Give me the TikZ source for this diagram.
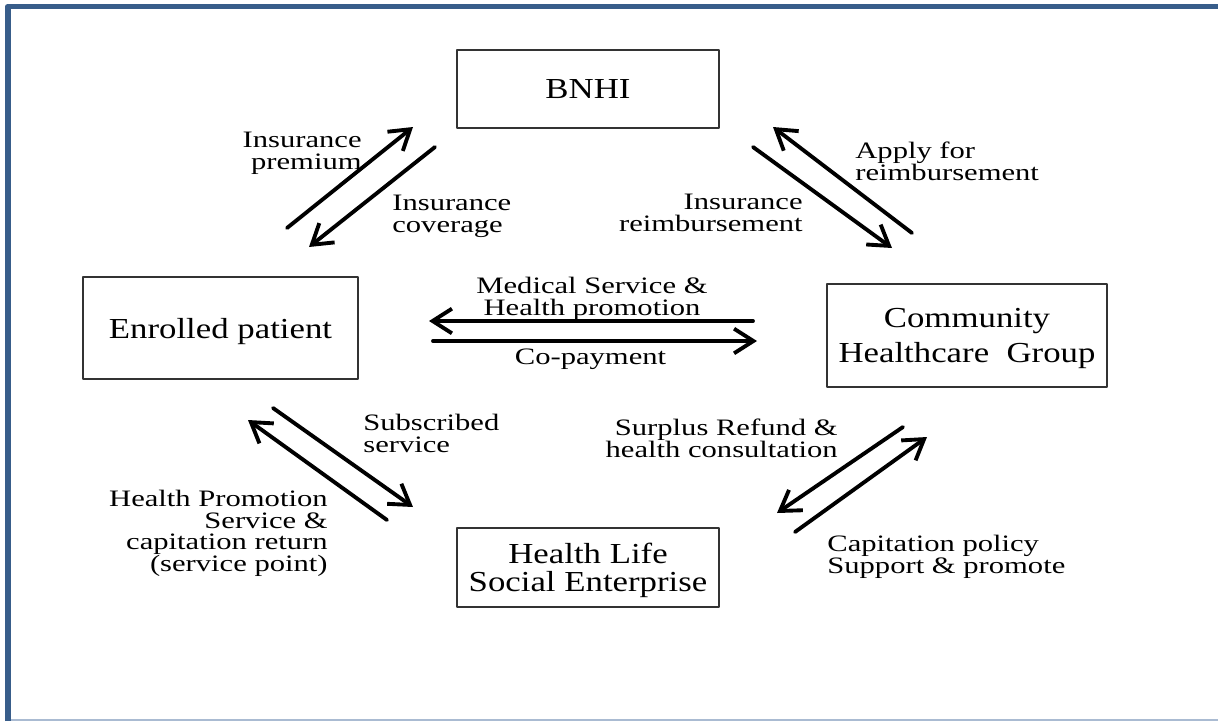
\documentclass[tikz,border=0pt]{standalone}
\usepackage{fontspec}
\setmainfont{Liberation Serif}
\newfontfamily\boxfont[FakeStretch=1.2]{Liberation Serif}
\newfontfamily\lblfont[FakeStretch=1.3]{Liberation Serif}
\usetikzlibrary{arrows.meta, positioning}
\definecolor{frameblue}{RGB}{56,93,138}
\definecolor{framelight}{RGB}{170,187,210}

\tikzset{
  entity/.style={draw=black!80, line width=0.8pt, inner sep=0pt, align=center, text depth=0pt,
    font=\boxfont\fontsize{16.5}{20}\selectfont},
  flow/.style={-{Straight Barb[length=11pt,width=14pt]}, line width=2.2pt, line cap=round},
  lbl/.style={inner sep=0pt, font=\lblfont\fontsize{13.4}{12.3}\selectfont},
}

\begin{document}
\begin{tikzpicture}[x=0.02cm, y=-0.02cm, line join=round]
    \useasboundingbox (0,0) rectangle (1218,721);

    % frame
    \draw [framelight, line width=1pt] (11,720) -- (1218,720);
    \draw [frameblue, line width=3.4pt] (8,721) -- (8,6.5) -- (1218,6.5);

    % actors
    \node [entity, minimum width=5.24cm, minimum height=1.56cm] (bnhi) at (588,89) {BNHI};
    \node [entity, minimum width=5.5cm, minimum height=2.04cm] (patient) at (220.5,328) {Enrolled patient};
    \node [entity, minimum width=5.6cm, minimum height=2.06cm] (chg) at (967,335.5) {Community\\Healthcare\ \ Group};
    \node [entity, minimum width=5.24cm, minimum height=1.58cm, font=\boxfont\fontsize{16.5}{16}\selectfont] (hlse) at (588,567.5) {Health Life\\Social Enterprise};

    % arrow ends
    \coordinate (premA) at (287,228);
    \coordinate (premB) at (413,127);
    \coordinate (covA) at (435,147);
    \coordinate (covB) at (309,247);
    \coordinate (reimA) at (753,147);
    \coordinate (reimB) at (892,248);
    \coordinate (applyA) at (912,233);
    \coordinate (applyB) at (773,127);
    \coordinate (medA) at (753,321);
    \coordinate (medB) at (429,321);
    \coordinate (copayA) at (433,341);
    \coordinate (copayB) at (757,341);
    \coordinate (subA) at (273,408);
    \coordinate (subB) at (413,507);
    \coordinate (retA) at (387,520);
    \coordinate (retB) at (248,420);
    \coordinate (surA) at (903,427);
    \coordinate (surB) at (777,513);
    \coordinate (capA) at (795,532);
    \coordinate (capB) at (927,437);

    \draw [flow] (premA) -- (premB);
    \draw [flow] (covA) -- (covB);
    \draw [flow] (reimA) -- (reimB);
    \draw [flow] (applyA) -- (applyB);
    \draw [flow] (medA) -- (medB);
    \draw [flow] (copayA) -- (copayB);
    \draw [flow] (subA) -- (subB);
    \draw [flow] (retA) -- (retB);
    \draw [flow] (surA) -- (surB);
    \draw [flow] (capA) -- (capB);

    % flow labels
    \node [lbl, anchor=north east, align=right] (premium) at (362,132) {Insurance\\premium};
    \node [lbl, anchor=north west, align=left] (coverage) at (392,195) {Insurance\\coverage};
    \node [lbl, anchor=north east, align=right] (reimb) at (803,194) {Insurance\\reimbursement};
    \node [lbl, anchor=north west, align=left] (apply) at (855,142) {Apply for\\reimbursement};
    \node [lbl, anchor=north, align=center] (medical) at (592,277) {Medical Service \&\\Health promotion};
    \node [lbl, anchor=north] (copay) at (590.5,349) {Co-payment};
    \node [lbl, anchor=north west, align=left] (subscribed) at (363,414) {Subscribed\\service};
    \node [lbl, anchor=north east, align=right] (hpromo) at (328,490) {Health Promotion\\Service \&\\capitation return\\(service point)};
    \node [lbl, anchor=north east, align=right] (surplus) at (838,419) {Surplus Refund \&\\health consultation};
    \node [lbl, anchor=north west, align=left] (capit) at (827,535) {Capitation policy\\Support \& promote};
\end{tikzpicture}
\end{document}
